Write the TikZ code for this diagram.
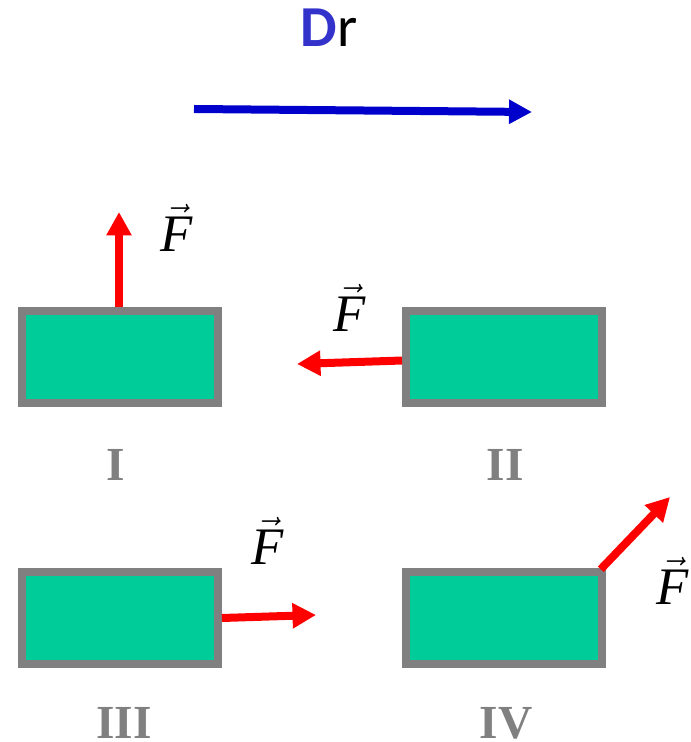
\documentclass[tikz,border=0pt]{standalone}
\usepackage{fontspec}
\usepackage{xcolor}
\usetikzlibrary{arrows.meta}
\newfontfamily\romanfont{Liberation Serif}
\newfontfamily\drfont{Carlito}
\definecolor{boxgreen}{RGB}{0,204,153}
\definecolor{boxgray}{RGB}{128,128,128}
\definecolor{forcered}{RGB}{255,0,0}
\definecolor{drblue}{RGB}{51,51,204}
\definecolor{arrowblue}{RGB}{0,0,204}
\tikzset{
    block/.style={draw=boxgray, fill=boxgreen, line width=0.16cm, minimum width=3.92cm, minimum height=1.86cm, inner sep=0pt},
    forcearrow/.style={-{Triangle[length=0.47cm, width=0.48cm]}, line width=0.16cm, draw=forcered},
    drarrow/.style={-{Triangle[length=0.46cm, width=0.46cm]}, line width=0.16cm, draw=arrowblue},
    forcelabel/.style={font=\romanfont\fontsize{30}{36}\selectfont, inner sep=0pt},
    numlabel/.style={font=\romanfont\bfseries\fontsize{27}{32}\selectfont, text=boxgray, inner sep=0pt}
}
\begin{document}
\begin{tikzpicture}[x=0.02cm, y=-0.02cm]
        \useasboundingbox (0,0) rectangle (690,742);
        % displacement
        \node[font=\drfont\fontsize{33}{40}\selectfont, inner sep=0pt] (drlabel) at (329,28) {\textcolor{drblue}{\bfseries D}r};
        \coordinate (drstart) at (194,109);
        \coordinate (drend) at (532,112);
        \draw[drarrow] (drstart) -- (drend);

        % the four blocks
        \node[block] (boxI) at (120,357) {};
        \node[block] (boxII) at (504,357) {};
        \node[block] (boxIII) at (120,618) {};
        \node[block] (boxIV) at (504,618) {};

        \node[numlabel] (numI) at (116,465) {I};
        \node[numlabel] (numII) at (505,465) {II};
        \node[numlabel] (numIII) at (124,723) {III};
        \node[numlabel] (numIV) at (506,723) {IV};

        % forces
        \coordinate (tipI) at (119,212);
        \coordinate (tipII) at (297,364);
        \coordinate (tipIII) at (316,615);
        \coordinate (tipIV) at (670,497);
        \draw[forcearrow] (boxI.north -| tipI) -- (tipI);
        \draw[forcearrow] ([yshift=-2pt]boxII.west) -- (tipII);
        \draw[forcearrow] (boxIII.east) -- (tipIII);
        \draw[forcearrow] ([xshift=-3pt,yshift=-1pt]boxIV.north east) -- (tipIV);

        \node[forcelabel] (fI) at (177,228) {$\vec{\mbox{\itshape F}}$};
        \node[forcelabel] (fII) at (350,308) {$\vec{\mbox{\itshape F}}$};
        \node[forcelabel] (fIII) at (268,541) {$\vec{\mbox{\itshape F}}$};
        \node[forcelabel] (fIV) at (673,581) {$\vec{\mbox{\itshape F}}$};
\end{tikzpicture}
\end{document}
